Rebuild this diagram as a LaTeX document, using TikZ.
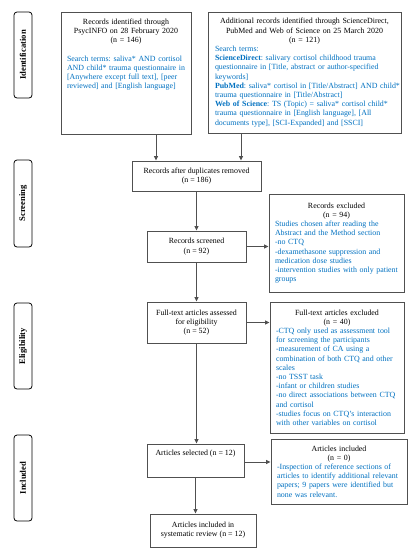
\documentclass[tikz,border=0pt]{standalone}
\usepackage{fontspec}
\setmainfont{Liberation Serif}
\usetikzlibrary{arrows.meta,calc}
\frenchspacing
\definecolor{blu}{RGB}{0,112,192}
\definecolor{bord}{RGB}{80,80,80}
\newcommand{\bxfont}{\fontsize{7.9}{9.2}\selectfont}
\newcommand{\bluetext}{\raggedright\rightskip=-40pt plus 2em\relax\color{blu}}
\tikzset{
  box/.style={draw=bord, line width=0.9pt, rectangle, inner sep=0pt, align=center,
    font=\bxfont},
  tbox/.style={draw=bord, line width=0.9pt, rectangle, inner ysep=0pt,
    font=\bxfont},
  phase/.style={draw=black, line width=0.8pt, rounded corners=3pt, minimum width=18pt,
    inner sep=0pt},
  phasetext/.style={rotate=90, font=\bfseries\fontsize{8.6}{9}\selectfont},
  arr/.style={draw=bord, line width=0.9pt, -{Triangle[length=4.5pt,width=4pt]}},
}
\begin{document}
\begin{tikzpicture}[x=1pt,y=-1pt]
\useasboundingbox (0,0) rectangle (414,550);
% phase labels
\node[phase, minimum height=86pt] (p1) at (23,55) {};
\node[phasetext] (p1t) at (p1) {Identification};
\node[phase, minimum height=87pt] (p2) at (23,203.5) {};
\node[phasetext] (p2t) at (p2) {Screening};
\node[phase, minimum height=86pt] (p3) at (23,346) {};
\node[phasetext] (p3t) at (p3) {Eligibility};
\node[phase, minimum height=86pt] (p4) at (23,478) {};
\node[phasetext] (p4t) at (p4) {Included};

% box 1
\node[box, minimum width=130pt, minimum height=122pt] (b1) at (126,73) {};
\node[anchor=north, text width=118pt, inner sep=0pt, font=\bxfont]
  (b1t) at ([yshift=-7pt]b1.north) {%
  \parindent0pt{\centering Records identified through\\PsycINFO on 28 February 2020\\(n = 146)\par}
  \vspace{9.2pt}
  {\bluetext Search terms: saliva* AND cortisol\\AND child* trauma questionnaire in\\[0pt][Anywhere except full text], [peer\\reviewed] and [English language]\par}};

% box 2
\node[tbox, minimum width=193pt, minimum height=121pt, text width=179pt, inner xsep=7pt] (b2) at (304.5,72.5) {%
  \parindent0pt{\centering Additional records identified through ScienceDirect,\\PubMed and Web of Science on 25 March 2020\\(n = 121)\par}
  {\bluetext Search terms:\\
  \textbf{ScienceDirect}: salivary cortisol childhood trauma\\
  questionnaire in [Title, abstract or author-specified\\
  keywords]\\
  \textbf{PubMed}: saliva* cortisol in [Title/Abstract] AND child*\\
  trauma questionnaire in [Title/Abstract]\\
  \textbf{Web of Science}: TS (Topic) = saliva* cortisol child*\\
  trauma questionnaire in [English language], [All\\
  documents type], [SCI-Expanded] and [SSCI]\par}};

% duplicates
\node[box, minimum width=129pt, minimum height=30pt] (dup) at (196.5,176) {Records after duplicates removed\\(n = 186)};
% screened
\node[box, minimum width=99pt, minimum height=31pt] (scr) at (196.5,246.5) {Records screened\\(n = 92)};
% excluded 1
\node[tbox, minimum width=135pt, minimum height=98pt, text width=123pt, inner xsep=6pt] (ex1) at (336.5,243) {%
  \parindent0pt{\centering Records excluded\\(n = 94)\par}
  {\bluetext Studies chosen after reading the\\Abstract and the Method section\\-no CTQ\\-dexamethasone suppression and\\medication dose studies\\-intervention studies with only patient\\groups\par}};
% full text
\node[box, minimum width=99pt, minimum height=41pt] (ft) at (196.5,322.5) {Full-text articles assessed\\for eligibility\\(n = 52)};
% excluded 2
\node[tbox, minimum width=134pt, minimum height=131pt, text width=122pt, inner xsep=6pt] (ex2) at (337,367.5) {%
  \parindent0pt{\centering Full-text articles excluded\\(n = 40)\par}
  {\bluetext -CTQ only used as assessment tool\\for screening the participants\\-measurement of CA using a\\combination of both CTQ and other\\scales\\-no TSST task\\-infant or children studies\\-no direct associations between CTQ\\and cortisol\\-studies focus on CTQ's interaction\\with other variables on cortisol\par}};
% selected
\node[box, minimum width=97pt, minimum height=33pt] (sel) at (195.5,460.5) {Articles selected (n = 12)\\[6pt]};
% included
\node[tbox, minimum width=136pt, minimum height=65pt, text width=124pt, inner xsep=6pt] (inc) at (339,471.5) {%
  \parindent0pt{\centering Articles included\\(n = 0)\par}
  {\bluetext -Inspection of reference sections of\\articles to identify additional relevant\\papers; 9 papers were identified but\\none was relevant.\par}};
% review
\node[box, minimum width=106pt, minimum height=33pt] (rev) at (203,530.5) {Articles included in\\systematic review (n = 12)};

% connectors
\draw[arr] ([xshift=30pt]b1.south) -- ([xshift=30pt]b1.south |- dup.north);
\draw[arr] ([xshift=-63.5pt]b2.south) -- ([xshift=-63.5pt]b2.south |- dup.north);
\draw[arr] (dup.south) -- (scr.north);
\draw[arr] (scr.east) -- (scr.east -| ex1.west);
\draw[arr] (scr.south) -- (ft.north);
\draw[arr] (ft.east) -- (ft.east -| ex2.west);
\draw[arr] (ft.south) -- (ft.south |- sel.north);
\draw[arr] ([yshift=-1.5pt]sel.east) -- ([yshift=-1.5pt]sel.east -| inc.west);
\draw[arr] (sel.south) -- (sel.south |- rev.north);
\end{tikzpicture}
\end{document}
